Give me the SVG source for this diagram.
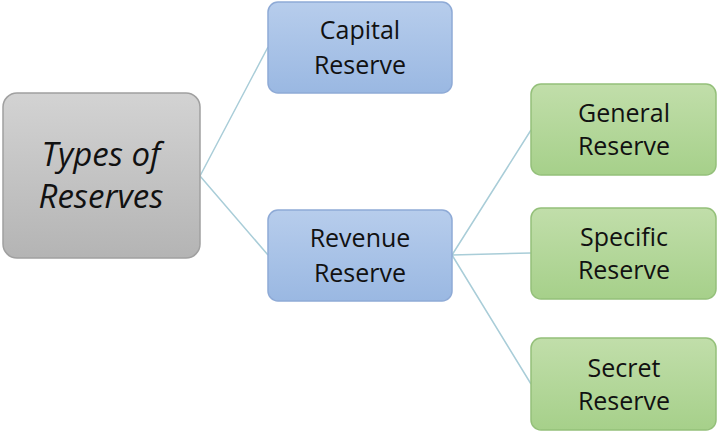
<svg xmlns="http://www.w3.org/2000/svg" width="720" height="433" viewBox="0 0 720 433">
<defs>
<linearGradient id="gg" x1="0" y1="0" x2="0" y2="1"><stop offset="0" stop-color="#d3d3d3"/><stop offset="1" stop-color="#b4b4b4"/></linearGradient>
<linearGradient id="gb" x1="0" y1="0" x2="0" y2="1"><stop offset="0" stop-color="#b7cdec"/><stop offset="1" stop-color="#9ab8e2"/></linearGradient>
<linearGradient id="gn" x1="0" y1="0" x2="0" y2="1"><stop offset="0" stop-color="#c1deaa"/><stop offset="1" stop-color="#a6d08a"/></linearGradient>
</defs>
<style>
text{font-family:"Open Sans","Liberation Sans",sans-serif;fill:#111;text-anchor:middle}
.t{font-size:25px}
.root{font-size:33px;font-style:italic}
.g{fill:url(#gg);stroke:#a0a0a0;stroke-width:1.5}
.b{fill:url(#gb);stroke:#8eaad6;stroke-width:1.5}
.n{fill:url(#gn);stroke:#94c07a;stroke-width:1.5}
.c{stroke:#a9cdd8;stroke-width:1.5;fill:none}
</style>
<rect width="720" height="433" fill="#fff"/>
<g id="connectors">
<path class="c" d="M200 176 L268 47 M200 176 L268 255 M452 255 L531 130 M452 255 L531 253 M452 255 L531 384"/>
</g>
<g id="root"><rect class="g" x="3" y="93" width="197" height="165" rx="14"/><text class="root" x="101" y="166">Types of</text><text class="root" x="101" y="208">Reserves</text></g>
<g id="capital"><rect class="b" x="268" y="2" width="184" height="91" rx="10"/><text class="t" x="360" y="39">Capital</text><text class="t" x="360" y="74">Reserve</text></g>
<g id="revenue"><rect class="b" x="268" y="210" width="184" height="91" rx="10"/><text class="t" x="360" y="247">Revenue</text><text class="t" x="360" y="282">Reserve</text></g>
<g id="general"><rect class="n" x="531" y="84" width="185" height="91" rx="10"/><text class="t" x="624" y="122">General</text><text class="t" x="624" y="155">Reserve</text></g>
<g id="specific"><rect class="n" x="531" y="208" width="185" height="91" rx="10"/><text class="t" x="624" y="246">Specific</text><text class="t" x="624" y="279">Reserve</text></g>
<g id="secret"><rect class="n" x="531" y="338" width="185" height="92" rx="10"/><text class="t" x="624" y="377">Secret</text><text class="t" x="624" y="410">Reserve</text></g>
</svg>
